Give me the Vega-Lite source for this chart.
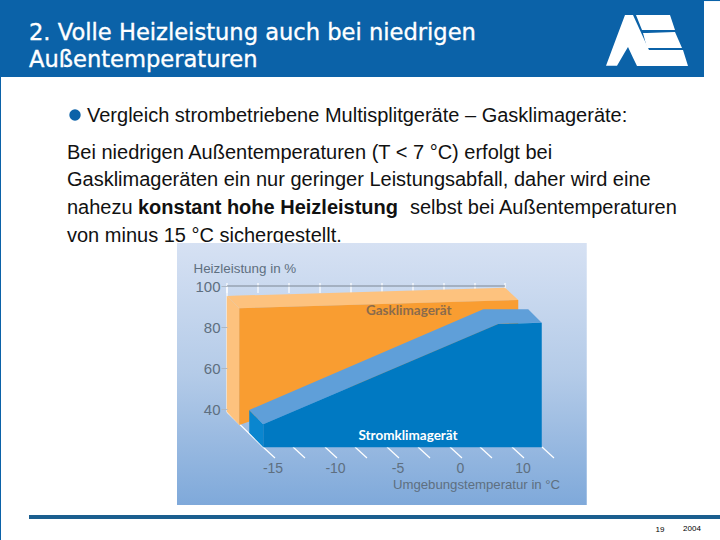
{"$schema":"https://vega.github.io/schema/vega-lite/v6.json","width":720,"height":540,"autosize":{"type":"fit","contains":"padding"},"padding":0,"background":"white","config":{"view":{"stroke":null},"font":"Liberation Sans"},
"encoding":{
"x":{"field":"temperatur","type":"quantitative","scale":{"domain":[-36.8,20.8],"nice":false,"zero":false},"axis":{"values":[-15,-10,-5,0,5],"labelExpr":"datum.value==5?'10':''+datum.value","orient":"bottom","offset":-80,"domain":false,"ticks":false,"grid":false,"labelFontSize":14,"labelColor":"#5E6F80","labelPadding":1,"title":"Umgebungstemperatur in °C","titleFontSize":13.2,"titleFontWeight":"normal","titleColor":"#5E6F80","titleX":476,"titleY":24,"titleAlign":"center","titleBaseline":"middle","zindex":1}},
"y":{"field":"leistung","type":"quantitative","stack":null,"scale":{"domain":[-23.9,239.51],"nice":false,"zero":false},"axis":{"values":[40,60,80,100],"orient":"left","offset":-227,"domain":false,"tickSize":6,"tickColor":"#AEB8C4","grid":false,"labelFontSize":15,"labelColor":"#5E6F80","labelPadding":1,"title":"Heizleistung in %","titleFontSize":13.4,"titleFontWeight":"normal","titleColor":"#5E6F80","titleAngle":0,"titleAlign":"left","titleBaseline":"middle","titleX":-34,"titleY":268,"zindex":1}}
},
"layer":[
{"mark":{"type":"rect"},"data":{"values":[
{"teil":"Kopf","temperatur":-36.8,"temperatur2":19.52,"leistung":239.51,"leistung2":201.95},
{"teil":"Kopf","temperatur":-36.8,"temperatur2":-36.72,"leistung":239.51,"leistung2":-23.9},
{"teil":"Kopf","temperatur":19.52,"temperatur2":20.8,"leistung":239.51,"leistung2":239.0},
{"teil":"Fuss","temperatur":-34.48,"temperatur2":20.8,"leistung":-11.7,"leistung2":-13.66}
]},"encoding":{"x2":{"field":"temperatur2"},"y2":{"field":"leistung2"},"color":{"field":"teil","type":"nominal","legend":null,"scale":{"domain":["Kopf","Fuss","Logo","oSeite","oOben","oFront","bSeite","bOben","bFront"],"range":["#0B62A8","#1B5F8F","#FFFFFF","#FDC27E","#FDC27E","#F99D31","#0A86CF","#5F9FD9","#0079C2"]}}}},
{"mark":{"type":"area"},"data":{"values":[
{"teil":"Logo","temperatur":11.68,"leistung":207.46,"leistung2":207.46},
{"teil":"Logo","temperatur":12.56,"leistung":221.8,"leistung2":207.46},
{"teil":"Logo","temperatur":13.2,"leistung":232.2,"leistung2":214.1},
{"teil":"Logo","temperatur":13.44,"leistung":232.2,"leistung2":216.6},
{"teil":"Logo","temperatur":13.84,"leistung":232.2,"leistung2":211.4},
{"teil":"Logo","temperatur":14.16,"leistung":227.9,"leistung2":207.32},
{"teil":"Logo","temperatur":15.12,"leistung":215.12,"leistung2":207.32},
{"teil":"Logo","temperatur":17.84,"leistung":215.12,"leistung2":207.32},
{"teil":"Logo","temperatur":18.24,"leistung":207.32,"leistung2":207.32}
]},"encoding":{"y2":{"field":"leistung2"},"color":{"value":"#FFFFFF"}}},
{"mark":{"type":"area","color":"#FFFFFF"},"data":{"values":[
{"temperatur":14.64,"leistung":223.41,"leistung2":223.41},
{"temperatur":14.96,"leistung":223.41,"leistung2":216.1},
{"temperatur":17.2,"leistung":223.9,"leistung2":216.1},
{"temperatur":17.76,"leistung":216.1,"leistung2":216.1}
]},"encoding":{"y2":{"field":"leistung2"}}},
{"mark":{"type":"area","color":"#FFFFFF"},"data":{"values":[
{"temperatur":14.08,"leistung":232.2,"leistung2":232.2},
{"temperatur":14.56,"leistung":232.2,"leistung2":224.88},
{"temperatur":16.8,"leistung":232.2,"leistung2":224.88},
{"temperatur":17.2,"leistung":224.88,"leistung2":224.88}
]},"encoding":{"y2":{"field":"leistung2"}}},
{"mark":{"type":"text","align":"left","baseline":"middle","fontSize":22.6,"font":"DejaVu Sans","color":"#FFFFFF","stroke":"#FFFFFF","strokeWidth":0.35},"data":{"values":[
{"temperatur":-34.48,"leistung":223.3,"zeile":"2. Volle Heizleistung auch bei niedrigen"},
{"temperatur":-34.48,"leistung":210.0,"zeile":"Außentemperaturen"}
]},"encoding":{"text":{"field":"zeile"}}},
{"mark":{"type":"point","filled":true,"size":130,"opacity":1,"color":"#0B62A8"},"data":{"values":[{"temperatur":-30.8,"leistung":183.41}]}},
{"mark":{"type":"text","align":"left","baseline":"middle","fontSize":20,"color":"#111111"},"data":{"values":[
{"temperatur":-29.84,"leistung":182.93,"zeile":"Vergleich strombetriebene Multisplitgeräte – Gasklimageräte:"},
{"temperatur":-31.44,"leistung":164.88,"zeile":"Bei niedrigen Außentemperaturen (T < 7 °C) erfolgt bei"},
{"temperatur":-31.44,"leistung":151.71,"zeile":"Gasklimageräten ein nur geringer Leistungsabfall, daher wird eine"},
{"temperatur":-31.44,"leistung":138.05,"zeile":"nahezu"},
{"temperatur":-4,"leistung":138.05,"zeile":"selbst bei Außentemperaturen"},
{"temperatur":-31.44,"leistung":124.39,"zeile":"von minus 15 °C sichergestellt."}
]},"encoding":{"text":{"field":"zeile"}}},
{"mark":{"type":"text","align":"left","baseline":"middle","fontSize":20,"fontWeight":"bold","color":"#111111"},"data":{"values":[
{"temperatur":-25.76,"leistung":138.05,"zeile":"konstant hohe Heizleistung"}
]},"encoding":{"text":{"field":"zeile"}}},
{"mark":{"type":"rect","fill":{"gradient":"linear","x1":0,"y1":0,"x2":0,"y2":1,"stops":[{"offset":0,"color":"#D6E1F3"},{"offset":0.5,"color":"#B4CBE8"},{"offset":1,"color":"#7FA9DA"}]}},"data":{"values":[{"temperatur":-22.64,"temperatur2":10.14,"leistung":120.98,"leistung2":-6.83}]},"encoding":{"x2":{"field":"temperatur2"},"y2":{"field":"leistung2"}}},
{"mark":{"type":"rule","color":"#FFFFFF","strokeWidth":1.2},"data":{"values":[
{"temperatur":-18.64,"temperatur2":-18.64,"leistung":100,"leistung2":38.54},
{"temperatur":-18.64,"temperatur2":-15.76,"leistung":38.54,"leistung2":21.46},
{"temperatur":-18.64,"temperatur2":-18.64,"leistung":101.46,"leistung2":96.59},
{"temperatur":-16.16,"temperatur2":-16.16,"leistung":101.46,"leistung2":96.59},
{"temperatur":-13.68,"temperatur2":-13.68,"leistung":101.46,"leistung2":96.59},
{"temperatur":-11.2,"temperatur2":-11.2,"leistung":101.46,"leistung2":96.59},
{"temperatur":-8.72,"temperatur2":-8.72,"leistung":101.46,"leistung2":96.59},
{"temperatur":-6.24,"temperatur2":-6.24,"leistung":101.46,"leistung2":96.59},
{"temperatur":-3.76,"temperatur2":-3.76,"leistung":101.46,"leistung2":96.59},
{"temperatur":-1.28,"temperatur2":-1.28,"leistung":101.46,"leistung2":96.59},
{"temperatur":1.2,"temperatur2":1.2,"leistung":101.46,"leistung2":96.59},
{"temperatur":3.6,"temperatur2":3.6,"leistung":101.46,"leistung2":96.59},
{"temperatur":-15.76,"temperatur2":-14.8,"leistung":21.46,"leistung2":16.1},
{"temperatur":-13.36,"temperatur2":-12.4,"leistung":21.46,"leistung2":16.1},
{"temperatur":-10.8,"temperatur2":-9.84,"leistung":21.46,"leistung2":16.1},
{"temperatur":-8.4,"temperatur2":-7.44,"leistung":21.46,"leistung2":16.1},
{"temperatur":-5.84,"temperatur2":-4.88,"leistung":21.46,"leistung2":16.1},
{"temperatur":-3.36,"temperatur2":-2.4,"leistung":21.46,"leistung2":16.1},
{"temperatur":-0.8,"temperatur2":0.16,"leistung":21.46,"leistung2":16.1},
{"temperatur":1.6,"temperatur2":2.56,"leistung":21.46,"leistung2":16.1},
{"temperatur":4.16,"temperatur2":5.12,"leistung":21.46,"leistung2":16.1},
{"temperatur":6.56,"temperatur2":7.52,"leistung":21.46,"leistung2":16.1}
]},"encoding":{"x2":{"field":"temperatur2"},"y2":{"field":"leistung2"}}},
{"mark":{"type":"rule","color":"#7D8793","strokeWidth":1},"data":{"values":[{"temperatur":-18.64,"temperatur2":3.6,"leistung":100}]},"encoding":{"x2":{"field":"temperatur2"}}},
{"mark":{"type":"area"},"data":{"values":[
{"teil":"oSeite","temperatur":-18.66,"leistung":95.12,"leistung2":38.68},
{"teil":"oSeite","temperatur":-17.66,"leistung":89.12,"leistung2":32.2},
{"teil":"oOben","temperatur":-18.66,"leistung":95.12,"leistung2":95.12},
{"teil":"oOben","temperatur":-17.66,"leistung":95.32,"leistung2":89.12},
{"teil":"oOben","temperatur":3.6,"leistung":99.17,"leistung2":92.98},
{"teil":"oOben","temperatur":4.66,"leistung":93.17,"leistung2":93.17},
{"teil":"oFront","temperatur":-17.66,"leistung":89.12,"leistung2":32.2},
{"teil":"oFront","temperatur":4.66,"leistung":93.17,"leistung2":78.5},
{"teil":"bSeite","temperatur":-16.86,"leistung":39.51,"leistung2":28.44},
{"teil":"bSeite","temperatur":-15.74,"leistung":32.54,"leistung2":21.32},
{"teil":"bOben","temperatur":-16.86,"leistung":39.51,"leistung2":39.51},
{"teil":"bOben","temperatur":-15.74,"leistung":42.44,"leistung2":32.54},
{"teil":"bOben","temperatur":1.86,"leistung":88.63,"leistung2":78.34},
{"teil":"bOben","temperatur":3.06,"leistung":88.63,"leistung2":81.46},
{"teil":"bOben","temperatur":5.46,"leistung":88.63,"leistung2":81.95},
{"teil":"bOben","temperatur":6.54,"leistung":82.1,"leistung2":82.1},
{"teil":"bFront","temperatur":-15.74,"leistung":32.54,"leistung2":21.32},
{"teil":"bFront","temperatur":3.06,"leistung":81.46,"leistung2":21.32},
{"teil":"bFront","temperatur":6.54,"leistung":82.1,"leistung2":21.32}
]},"encoding":{"y2":{"field":"leistung2"},"color":{"field":"teil","type":"nominal","legend":null}}},
{"mark":{"type":"text","align":"center","baseline":"middle","fontSize":13.5,"fontWeight":"bold","font":"Lato","color":"#8A6B4C"},"data":{"values":[{"temperatur":-4.1,"leistung":87.8,"zeile":"Gasklimagerät"}]},"encoding":{"text":{"field":"zeile"}}},
{"mark":{"type":"text","align":"center","baseline":"middle","fontSize":13.5,"fontWeight":"bold","font":"Lato","color":"#FFFFFF"},"data":{"values":[{"temperatur":-4.16,"leistung":26.8,"zeile":"Stromklimagerät"}]},"encoding":{"text":{"field":"zeile"}}},
{"mark":{"type":"text","align":"center","baseline":"middle","fontSize":8,"color":"#000000"},"data":{"values":[
{"temperatur":16,"leistung":-19,"zeile":"19"},
{"temperatur":18.56,"leistung":-18.5,"zeile":"2004"}
]},"encoding":{"text":{"field":"zeile"}}}
]}
